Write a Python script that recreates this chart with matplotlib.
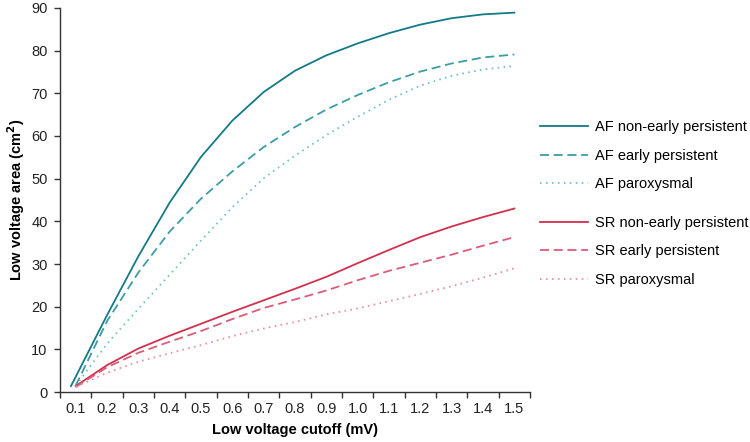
import numpy as np
import matplotlib
matplotlib.use("Agg")
import matplotlib.pyplot as plt

plt.rcParams['font.family'] = ['Liberation Sans', 'DejaVu Sans']

# cutoff values (mV)
cutoff = [0.1, 0.2, 0.3, 0.4, 0.5, 0.6, 0.7, 0.8, 0.9, 1.0, 1.1, 1.2, 1.3, 1.4, 1.5]
cutoff_af_nep = [0.085] + cutoff[1:]

# low voltage area (cm2) per group
af_non_early = [1.4, 18, 31.8, 44.4, 55.1, 63.6, 70.3, 75.3, 78.9, 81.7, 84.1, 86.1, 87.6, 88.5, 88.9]
af_early = [1.5, 16.6, 28.0, 37.6, 45.3, 51.7, 57.4, 62.1, 66.2, 69.6, 72.6, 75.1, 77.0, 78.4, 79.1]
af_parox = [1.5, 11.3, 19.5, 27.5, 35.5, 43.3, 50.1, 55.4, 60.2, 64.5, 68.5, 71.8, 74.1, 75.6, 76.4]
sr_non_early = [1.4, 6.3, 10.2, 13.2, 16, 18.8, 21.5, 24.2, 27, 30.2, 33.3, 36.3, 38.8, 41, 43]
sr_early = [1.2, 5.8, 9.2, 11.8, 14.3, 17.1, 19.7, 21.7, 23.8, 26.2, 28.4, 30.3, 32.2, 34.3, 36.3]
sr_parox = [1.2, 4.5, 7.1, 9.1, 11, 13.1, 14.9, 16.4, 18.2, 19.6, 21.3, 23, 24.8, 26.8, 29]

teal1, teal2, teal3 = '#137a86', '#3a9ea3', '#72c0c3'
red1, red2, red3 = '#d1304e', '#dc5c78', '#e98da2'

fig = plt.figure(figsize=(7.5, 4.42), dpi=100)
ax = fig.add_axes([0.08, 0.113, 0.6267, 0.869])

lw = 1.3
dash = (5, 2.6)
dot = (0.9, 2.4)

ax.plot(cutoff_af_nep, af_non_early, color=teal1, lw=lw, label='AF non-early persistent')
ax.plot(cutoff, af_early, color=teal2, lw=lw, dashes=dash, label='AF early persistent')
ax.plot(cutoff, af_parox, color=teal3, lw=lw, dashes=dot, label='AF paroxysmal')
ax.plot(cutoff, sr_non_early, color=red1, lw=lw, label='SR non-early persistent')
ax.plot(cutoff, sr_early, color=red2, lw=lw, dashes=dash, label='SR early persistent')
ax.plot(cutoff, sr_parox, color=red3, lw=lw, dashes=dot, label='SR paroxysmal')

# ticks sit between the labels, labels centred on each cutoff
ax.set_xlim(0.05, 1.55)
ax.set_ylim(0, 90)
ax.set_xticks(np.arange(0.05, 1.56, 0.1))
ax.set_xticklabels([])
ax.set_xticks(cutoff, minor=True)
ax.set_xticklabels(['%.1f' % c for c in cutoff], minor=True)
ax.set_yticks(range(0, 91, 10))
ax.tick_params(axis='x', which='major', direction='out', length=4, width=1, color='#333333')
ax.tick_params(axis='x', which='minor', length=0, pad=7, labelsize=10.5, labelcolor='#222222')
ax.tick_params(axis='y', direction='out', length=4, width=1, color='#333333',
               labelsize=10.5, labelcolor='#222222', pad=5)

for s in ['top', 'right']:
    ax.spines[s].set_visible(False)
for s in ['left', 'bottom']:
    ax.spines[s].set_color('#333333')
    ax.spines[s].set_linewidth(1)

ax.set_xlabel('Low voltage cutoff (mV)', fontsize=10.5, fontweight='bold', labelpad=5)
ax.set_ylabel('Low voltage area (cm$^\\mathbf{2}$)', fontsize=10.5, fontweight='bold', labelpad=3)

handles, labels = ax.get_legend_handles_labels()
kw = dict(loc='upper left', frameon=False, fontsize=10.5, handlelength=3.3, handletextpad=0.45,
          labelspacing=1.0, borderaxespad=0, borderpad=0)
fig.legend(handles[:3], labels[:3], bbox_to_anchor=(0.72, 0.728), **kw)
fig.legend(handles[3:], labels[3:], bbox_to_anchor=(0.72, 0.512), **kw)

fig.savefig('out.png', dpi=100)
